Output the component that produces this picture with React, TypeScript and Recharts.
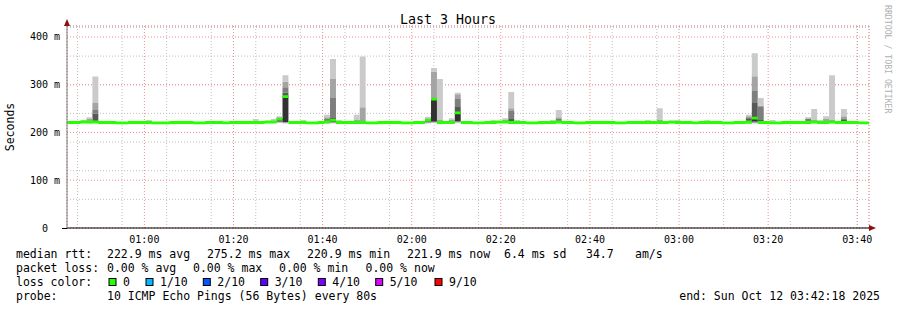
import React from 'react';
import { ComposedChart, Area, XAxis, YAxis, CartesianGrid } from 'recharts';

const MONO = '"DejaVu Sans Mono", monospace';

// time grid (seconds after midnight), one RRD step = 80 s
const START = 2558;
const END = 13358;
const FIRST_SLOT = 2500;
const STEP = 80;

const majorTimeTicks = [3600, 4800, 6000, 7200, 8400, 9600, 10800, 12000, 13200];
const minorTimeTicks = [
  2700, 3000, 3300, 3600, 3900, 4200, 4500, 4800, 5100, 5400, 5700, 6000, 6300, 6600, 6900, 7200,
  7500, 7800, 8100, 8400, 8700, 9000, 9300, 9600, 9900, 10200, 10500, 10800, 11100, 11400, 11700,
  12000, 12300, 12600, 12900, 13200,
];
const majorValueTicks = [0, 100, 200, 300, 400];
const minorValueTicks = [
  0, 20, 40, 60, 80, 100, 120, 140, 160, 180, 200, 220, 240, 260, 280, 300, 320, 340, 360, 380, 400, 420,
];

// median rtt per 80 s slot (ms)
const median = [
  221, 221, 221, 222, 222, 222, 221, 221, 221, 220,
  220, 221, 221, 221, 221, 220, 220, 220, 221, 221,
  221, 221, 220, 220, 221, 221, 221, 220, 221, 221,
  221, 221, 221, 221, 222, 222, 228, 275, 221, 221,
  221, 220, 220, 221, 222, 226, 221, 221, 221, 221,
  221, 220, 220, 221, 221, 221, 221, 220, 220, 221,
  221, 226, 270, 221, 221, 221, 241, 221, 221, 220,
  220, 221, 221, 222, 222, 221, 221, 221, 220, 220,
  221, 221, 221, 222, 221, 221, 220, 220, 221, 221,
  221, 221, 221, 220, 220, 221, 221, 221, 221, 221,
  221, 221, 222, 221, 221, 221, 220, 221, 221, 221,
  221, 220, 220, 221, 221, 222, 230, 221, 221, 220,
  220, 221, 221, 221, 221, 221, 222, 221, 221, 222,
  221, 221, 221, 221, 220, 220, 220,
];

// sorted pings of the slots that show smoke (ms)
const smokeSlots: { slot: number; pings: number[] }[] = [
  { slot: 3, pings: [220, 220, 221, 221, 222, 222, 222, 223, 223, 226] },
  { slot: 4, pings: [219, 220, 221, 221, 222, 222, 223, 224, 228, 232] },
  { slot: 5, pings: [220, 221, 221, 222, 222, 224, 240, 247, 262, 317] },
  { slot: 14, pings: [220, 220, 221, 221, 221, 221, 222, 222, 223, 226] },
  { slot: 32, pings: [220, 221, 221, 221, 221, 222, 222, 223, 224, 228] },
  { slot: 35, pings: [220, 221, 221, 221, 222, 222, 222, 223, 224, 228] },
  { slot: 36, pings: [220, 221, 222, 224, 226, 229, 230, 231, 232, 234] },
  { slot: 37, pings: [219, 220, 221, 222, 222, 276, 284, 295, 306, 320] },
  { slot: 40, pings: [220, 220, 221, 221, 221, 221, 222, 222, 223, 226] },
  { slot: 44, pings: [219, 220, 221, 221, 222, 222, 224, 228, 232, 237] },
  { slot: 45, pings: [219, 220, 221, 222, 224, 228, 232, 272, 312, 354] },
  { slot: 46, pings: [220, 220, 221, 221, 221, 221, 222, 222, 223, 226] },
  { slot: 49, pings: [220, 221, 221, 221, 222, 222, 223, 224, 226, 237] },
  { slot: 50, pings: [220, 221, 221, 221, 221, 222, 223, 224, 253, 359] },
  { slot: 61, pings: [219, 220, 221, 222, 223, 226, 228, 229, 230, 233] },
  { slot: 62, pings: [220, 221, 222, 222, 223, 270, 271, 272, 327, 335] },
  { slot: 63, pings: [219, 220, 221, 221, 222, 222, 223, 224, 226, 312] },
  { slot: 65, pings: [220, 220, 221, 221, 222, 222, 223, 224, 226, 230] },
  { slot: 66, pings: [220, 221, 222, 223, 224, 241, 255, 270, 280, 283] },
  { slot: 72, pings: [220, 220, 221, 221, 221, 221, 222, 222, 223, 226] },
  { slot: 74, pings: [220, 220, 221, 221, 222, 222, 223, 224, 226, 230] },
  { slot: 75, pings: [220, 221, 221, 222, 222, 223, 230, 245, 251, 285] },
  { slot: 76, pings: [220, 220, 221, 221, 221, 221, 222, 222, 223, 226] },
  { slot: 82, pings: [220, 220, 221, 221, 221, 221, 222, 222, 223, 226] },
  { slot: 83, pings: [220, 221, 221, 222, 222, 223, 224, 228, 232, 247] },
  { slot: 98, pings: [220, 220, 221, 221, 221, 221, 222, 222, 223, 226] },
  { slot: 100, pings: [220, 221, 221, 221, 222, 222, 223, 224, 226, 251] },
  { slot: 103, pings: [220, 220, 221, 221, 221, 221, 222, 222, 223, 226] },
  { slot: 108, pings: [220, 220, 221, 221, 221, 221, 222, 222, 223, 226] },
  { slot: 113, pings: [220, 220, 221, 221, 221, 221, 222, 222, 223, 224] },
  { slot: 115, pings: [218, 219, 220, 221, 222, 224, 228, 232, 234, 237] },
  { slot: 116, pings: [219, 220, 221, 222, 223, 232, 262, 287, 318, 366] },
  { slot: 117, pings: [220, 221, 221, 222, 222, 224, 226, 255, 256, 272] },
  { slot: 119, pings: [220, 220, 221, 221, 221, 221, 222, 222, 223, 226] },
  { slot: 125, pings: [219, 220, 221, 221, 222, 222, 224, 228, 230, 232] },
  { slot: 126, pings: [220, 221, 221, 221, 222, 222, 223, 224, 226, 249] },
  { slot: 127, pings: [220, 220, 221, 221, 221, 221, 222, 222, 223, 226] },
  { slot: 128, pings: [220, 220, 221, 221, 222, 222, 223, 224, 228, 234] },
  { slot: 129, pings: [220, 221, 221, 221, 222, 222, 223, 224, 226, 320] },
  { slot: 131, pings: [220, 221, 221, 221, 222, 223, 226, 230, 234, 249] },
];

const smokeColors = ['#cacaca', '#a4a4a4', '#7e7e7e', '#585858', '#323232', '#585858', '#7e7e7e', '#a4a4a4', '#cacaca'];

const lossLabels = ['0', '1/10', '2/10', '3/10', '4/10', '5/10', '9/10'];
const lossColors = ['#26ff00', '#00b8ff', '#0059ff', '#5e00ff', '#7e00ff', '#dd00ff', '#ff0000'];

// legend items with the x where rrdtool put them
const statsItems: [string, number][] = [
  ['median rtt:', 16],
  ['222.9 ms avg', 107],
  ['275.2 ms max', 207],
  ['220.9 ms min', 307],
  ['221.9 ms now', 407],
  ['6.4 ms sd', 504],
  ['34.7', 586],
  ['am/s', 635],
];
const lossItemsText: [string, number][] = [
  ['packet loss:', 16],
  ['0.00 % avg', 107],
  ['0.00 % max', 193],
  ['0.00 % min', 279],
  ['0.00 % now', 365.5],
];
const lossBoxX = [109, 146, 203.3, 260.7, 318.3, 375.7, 435];
const probeText = '10 ICMP Echo Pings (56 Bytes) every 80s';
const endText = 'end: Sun Oct 12 03:42:18 2025';

const smokeMap = new Map(smokeSlots.map((s) => [s.slot, s.pings]));

const data = median.map((m, k) => {
  const p = smokeMap.get(k) ?? Array(10).fill(m);
  const row: Record<string, number> = { t: FIRST_SLOT + k * STEP, base: p[0], medLo: m - 3, medBand: 6 };
  for (let i = 1; i < 10; i++) row['d' + i] = p[i] - p[i - 1];
  return row;
});

const fmtTime = (s: number) => {
  const h = Math.floor(s / 3600);
  const m = Math.floor((s % 3600) / 60);
  return `${String(h).padStart(2, '0')}:${String(m).padStart(2, '0')}`;
};

const XTick = (props: any) => {
  const { x, y, payload } = props;
  return (
    <text x={x} y={y + 7} textAnchor="middle" fontFamily={MONO} fontSize={10} fill="#000">
      {fmtTime(payload.value)}
    </text>
  );
};

const YTick = (props: any) => {
  const { x, y, payload } = props;
  const v = payload.value;
  return (
    <text x={v === 0 ? x - 11 : x + 1} y={y + 3.5} textAnchor="end" fontFamily={MONO} fontSize={10} fill="#000">
      {v === 0 ? '0' : `${v} m`}
    </text>
  );
};

const App: React.FC = () => {
  return (
    <div style={{ position: 'absolute', left: 0, top: 0, width: 897, height: 310, background: '#fff' }}>
      <ComposedChart width={897} height={310} data={data} margin={{ top: 26, right: 28, left: 0, bottom: 0 }}>
        <XAxis xAxisId="minor" dataKey="t" type="number" domain={[START, END]} ticks={minorTimeTicks} allowDataOverflow hide />
        <YAxis yAxisId="minor" type="number" domain={[0, 423]} ticks={minorValueTicks} allowDataOverflow hide />
        <XAxis xAxisId="major" dataKey="t" type="number" domain={[START, END]} ticks={majorTimeTicks} allowDataOverflow hide />
        <YAxis yAxisId="major" type="number" domain={[0, 423]} ticks={majorValueTicks} allowDataOverflow hide />
        <CartesianGrid xAxisId="minor" yAxisId="minor" stroke="#c0c0c0" strokeDasharray="1 2" />
        <CartesianGrid xAxisId="major" yAxisId="major" stroke="#f08c8c" strokeDasharray="1 2" />
        <XAxis
          dataKey="t"
          type="number"
          domain={[START, END]}
          ticks={majorTimeTicks}
          allowDataOverflow
          height={82}
          tickLine={false}
          axisLine={{ stroke: '#000' }}
          tick={<XTick />}
        />
        <YAxis
          type="number"
          domain={[0, 423]}
          ticks={majorValueTicks}
          allowDataOverflow
          width={67}
          tickLine={false}
          axisLine={{ stroke: '#808080' }}
          tick={<YTick />}
        />
        <Area dataKey="base" stackId="smoke" type="stepAfter" fill="none" stroke="none" dot={false} activeDot={false} isAnimationActive={false} />
        {smokeColors.map((c, i) => (
          <Area
            key={i}
            dataKey={'d' + (i + 1)}
            stackId="smoke"
            type="stepAfter"
            fill={c}
            fillOpacity={1}
            stroke="none"
            dot={false}
            activeDot={false}
            isAnimationActive={false}
          />
        ))}
        <Area dataKey="medLo" stackId="med" type="stepAfter" fill="none" stroke="none" dot={false} activeDot={false} isAnimationActive={false} />
        <Area dataKey="medBand" stackId="med" type="stepAfter" fill="#26ff00" fillOpacity={1} stroke="none" dot={false} activeDot={false} isAnimationActive={false} />
      </ComposedChart>

      <svg width={897} height={310} style={{ position: 'absolute', left: 0, top: 0, pointerEvents: 'none' }}>
        <text x={448} y={24} textAnchor="middle" fontFamily={MONO} fontSize={13.3} fill="#000">
          Last 3 Hours
        </text>
        <text transform="translate(14,127) rotate(-90)" textAnchor="middle" fontFamily={MONO} fontSize={11.5} fill="#000">
          Seconds
        </text>
        <text transform="translate(885,5) rotate(90)" fontFamily={MONO} fontSize={8.2} fill="#b0b0b0">
          RRDTOOL / TOBI OETIKER
        </text>
        {/* axis arrows */}
        <line x1={62} y1={228.5} x2={67} y2={228.5} stroke="#000" />
        <polygon points="64,26 70,26 67,19" fill="#8b1010" />
        <polygon points="869,225 869,231 876,228" fill="#8b1010" />
        {/* legend */}
        <g fontFamily={MONO} fontSize={11.5} fill="#000">
          {statsItems.map(([s, x]) => (
            <text key={s} x={x} y={258}>{s}</text>
          ))}
          {lossItemsText.map(([s, x]) => (
            <text key={s} x={x} y={272}>{s}</text>
          ))}
          <text x={16} y={286}>loss color:</text>
          {lossLabels.map((label, i) => (
            <g key={label}>
              <rect x={lossBoxX[i]} y={278.5} width={7} height={7} fill={lossColors[i]} stroke="#000" strokeWidth={1} />
              <text x={lossBoxX[i] + 14} y={286}>{label}</text>
            </g>
          ))}
          <text x={16} y={300}>probe:</text>
          <text x={107} y={300}>{probeText}</text>
          <text x={880} y={300} textAnchor="end">{endText}</text>
        </g>
      </svg>
    </div>
  );
};

export default App;
